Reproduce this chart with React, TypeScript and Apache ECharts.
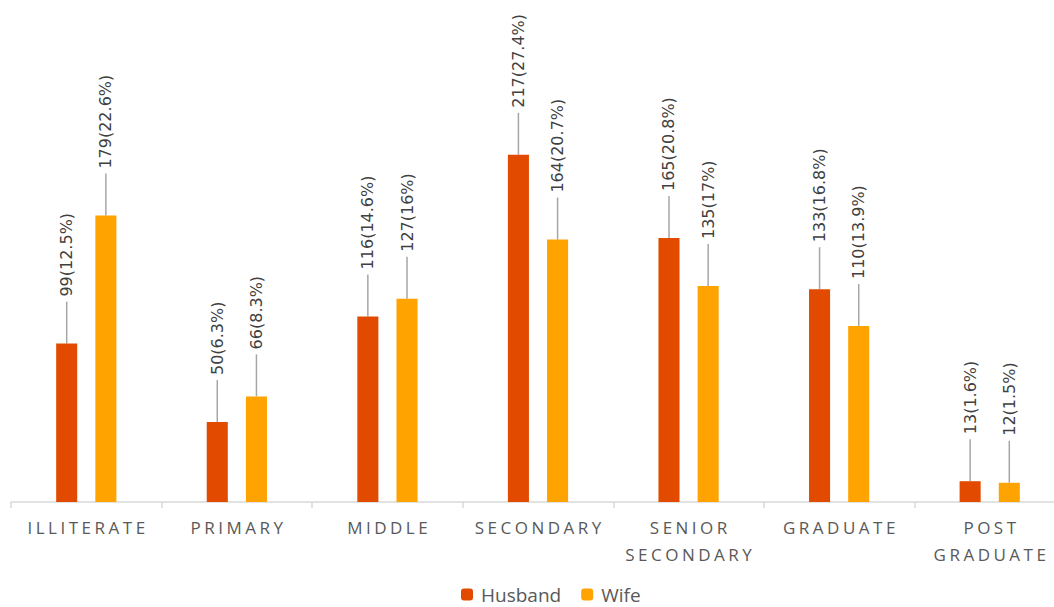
import React, { useEffect, useRef } from "react";
import * as echarts from "echarts";

const categories = ["ILLITERATE", "PRIMARY", "MIDDLE", "SECONDARY", "SENIOR\nSECONDARY", "GRADUATE", "POST\nGRADUATE"];
const husbandValues = [99, 50, 116, 217, 165, 133, 13];
const husbandPct = ["12.5", "6.3", "14.6", "27.4", "20.8", "16.8", "1.6"];
const wifeValues = [179, 66, 127, 164, 135, 110, 12];
const wifePct = ["22.6", "8.3", "16", "20.7", "17", "13.9", "1.5"];

const HUSBAND_COLOR = "#E24A00";
const WIFE_COLOR = "#FFA300";
const BAR_CAT_GAP = 0.6;
const BAR_GAP = 0.86;
const LINE_LEN = 42;
const LABEL_DIST = 47;
const LETTER_SPACING = 3.5;

function leaderSeries(values: number[], sign: number) {
  return {
    type: "custom",
    silent: true,
    z: 1,
    data: values.map((v, i) => [i, v]),
    encode: { x: 0, y: 1 },
    renderItem: (params: any, api: any) => {
      const p = api.coord([api.value(0), api.value(1)]);
      const band = api.size([1, 0])[0];
      const bw = (band * (1 - BAR_CAT_GAP)) / (2 + BAR_GAP);
      const off = sign * (bw * (1 + BAR_GAP)) / 2;
      const x = p[0] + off;
      return {
        type: "line",
        shape: { x1: x, y1: p[1], x2: x, y2: p[1] - LINE_LEN },
        style: { stroke: "#A6A6A6", lineWidth: 1.5 },
      };
    },
  };
}

function barSeries(name: string, values: number[], pct: string[], color: string) {
  return {
    name,
    type: "bar",
    data: values,
    barCategoryGap: BAR_CAT_GAP * 100 + "%",
    barGap: BAR_GAP * 100 + "%",
    itemStyle: { color },
    z: 2,
    label: {
      show: true,
      position: "top",
      distance: LABEL_DIST,
      rotate: 90,
      align: "left",
      verticalAlign: "middle",
      fontFamily: "DejaVu Sans",
      fontSize: 16,
      color: "#404040",
      formatter: (p: any) => `${values[p.dataIndex]}(${pct[p.dataIndex]}%)`,
    },
  };
}

export default function App() {
  const ref = useRef<HTMLDivElement>(null);
  useEffect(() => {
    document.body.style.margin = "0";
    const chart = echarts.init(ref.current!, null, { renderer: "svg" });
    chart.setOption({
      animation: false,
      grid: { left: 11, top: 22, width: 1054, bottom: 105, containLabel: false, outerBoundsMode: "none" },
      legend: {
        bottom: -2,
        left: 456,
        itemWidth: 12,
        itemHeight: 12,
        itemGap: 20,
        data: ["Husband", "Wife"],
        textStyle: { fontFamily: "Open Sans", fontSize: 19, color: "#595959", padding: [0, 0, 0, 3] },
      },
      xAxis: {
        type: "category",
        data: categories,
        axisLine: { lineStyle: { color: "#D9D9D9", width: 1.5 } },
        axisTick: { show: true, length: 6, lineStyle: { color: "#D9D9D9", width: 1.5 } },
        axisLabel: {
          interval: 0,
          margin: 12,
          fontFamily: "Open Sans",
          fontSize: 17,
          lineHeight: 27,
          color: "#595959",
        },
      },
      yAxis: { type: "value", min: 0, max: 300, show: false, splitLine: { show: false } },
      series: [
        barSeries("Husband", husbandValues, husbandPct, HUSBAND_COLOR),
        barSeries("Wife", wifeValues, wifePct, WIFE_COLOR),
        leaderSeries(husbandValues, -1),
        leaderSeries(wifeValues, 1),
      ],
    });
    const words = new Set<string>();
    categories.forEach((c) => c.split("\n").forEach((w) => words.add(w)));
    const applySpacing = () => {
      const texts = ref.current?.querySelectorAll("text") || [];
      texts.forEach((t) => {
        if (words.has((t.textContent || "").trim())) {
          t.setAttribute("letter-spacing", String(LETTER_SPACING));
          t.setAttribute("dx", String(LETTER_SPACING / 2));
        }
      });
    };
    applySpacing();
    chart.on("finished", applySpacing);
    const timer = setTimeout(applySpacing, 50);
    return () => {
      clearTimeout(timer);
      chart.dispose();
    };
  }, []);
  return <div ref={ref} style={{ width: 1054, height: 607 }} />;
}
